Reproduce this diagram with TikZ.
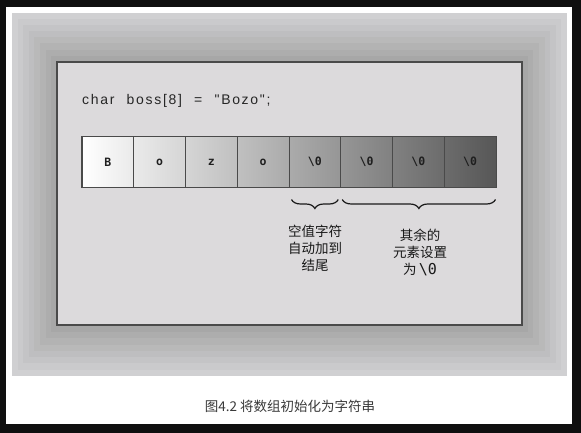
\documentclass[tikz,border=0pt]{standalone}
\usepackage{fontspec}
\setmainfont{Liberation Sans}
\newfontfamily\cjk{Noto Sans CJK SC}
\newfontfamily\monob{DejaVu Sans Mono}[BoldFont={DejaVu Sans Mono Bold}]
\newfontfamily\codefont{Liberation Sans}[LetterSpace=12,WordSpace=2.2]
\usetikzlibrary{decorations.pathreplacing}
\definecolor{blackbg}{HTML}{0F0F0F}
\definecolor{outg}{HTML}{D0D0D2}
\definecolor{inng}{HTML}{A7A7A7}
\definecolor{panel}{HTML}{DCDADC}
\definecolor{edge}{HTML}{4A4A4A}
\definecolor{captc}{HTML}{3A3A3A}
\begin{document}
\begin{tikzpicture}[x=1pt,y=-1pt,
  cell/.style={draw=edge,line width=1pt,minimum width=51.75pt,minimum height=50pt,inner sep=0pt,
    font=\monob\bfseries\fontsize{11.5}{13}\selectfont,text=black!88},
  lbl/.style={align=center,font=\cjk\fontsize{13.5}{17}\selectfont,text=black!90,inner sep=0pt},
  brc/.style={decorate,decoration={brace,mirror,amplitude=9pt},line width=1.2pt,draw=black!90}]
\useasboundingbox (0,0) rectangle (581,433);
\fill[blackbg] (0,0) rectangle (581,433);
\fill[white] (6,7) rectangle (572,424);
\foreach \i [evaluate=\i as \p using \i*100/7] in {0,...,7}{
  \fill[inng!\p!outg] (12+\i*5.6,13+\i*6.1) rectangle (567-\i*5.6,376-\i*6.3);
}
\node[draw=edge,line width=2pt,fill=panel,minimum width=465pt,minimum height=263pt,inner sep=0pt] (panel) at (289.5,193.5) {};
\node[anchor=base west,inner sep=0pt,font=\codefont\fontsize{14}{16}\selectfont,text=black!85] (code) at (82,105) {char boss[8] = "Bozo";};
\shade[left color=white,right color=black!66] (82,137) rectangle (496,187);
\foreach \t [count=\k] in {B,o,z,o,\textbackslash0,\textbackslash0,\textbackslash0,\textbackslash0}{
  \node[cell] (c\k) at (82+25.875+\k*51.75-51.75,162) {\t};
}
\draw[edge,line width=1.5pt] (c1.north west) rectangle (c8.south east);
\draw[brc] ([xshift=3pt,yshift=-12pt]c5.south west) -- ([xshift=-3pt,yshift=-12pt]c5.south east);
\draw[brc] ([xshift=2pt,yshift=-12pt]c6.south west) -- ([xshift=-1pt,yshift=-12pt]c8.south east);
\node[lbl] (l1) at (315,248) {空值字符\\自动加到\\结尾};
\node[lbl] (l2) at (420,252) {其余的\\元素设置\\为\,{\monob\fontsize{15}{17}\selectfont\textbackslash0}};
\node[font=\cjk\fontsize{13.5}{16}\selectfont,text=captc,inner sep=0pt] (cap) at (290,406) {图4.2 将数组初始化为字符串};
\end{tikzpicture}
\end{document}
